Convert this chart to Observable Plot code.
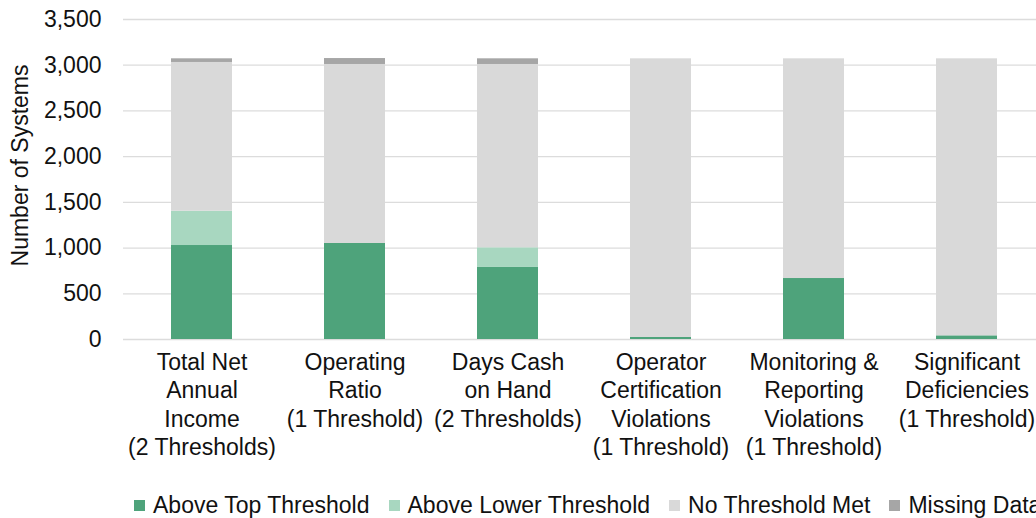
<!DOCTYPE html>
<html>
<head>
<meta charset="utf-8">
<script src="https://cdn.jsdelivr.net/npm/d3@7"></script>
<script src="https://cdn.jsdelivr.net/npm/@observablehq/plot@0.6"></script>
<style>
  html, body { margin: 0; padding: 0; background: white; overflow: hidden; }
  #wrap { position: relative; width: 1036px; height: 518px; font-family: "Liberation Sans", Arial, sans-serif; }
  #legend { position: absolute; left: 134px; top: 492px; display: flex; align-items: center; white-space: nowrap; font-size: 23px; color: #111; }
  .item { display: flex; align-items: center; margin-right: 19px; }
  .sw { width: 11px; height: 11px; margin-right: 8px; }
</style>
</head>
<body>
<div id="wrap"></div>
<script>
const categories = [
  "Total Net\nAnnual\nIncome\n(2 Thresholds)",
  "Operating\nRatio\n(1 Threshold)",
  "Days Cash\non Hand\n(2 Thresholds)",
  "Operator\nCertification\nViolations\n(1 Threshold)",
  "Monitoring &\nReporting\nViolations\n(1 Threshold)",
  "Significant\nDeficiencies\n(1 Threshold)"
];
const series = ["Above Top Threshold", "Above Lower Threshold", "No Threshold Met", "Missing Data"];
const colors = ["#4ea37b", "#a8d7c0", "#d9d9d9", "#a6a6a6"];
const aboveTop   = [1028, 1050, 788, 22, 667, 40];
const aboveLower = [375, 0, 215, 0, 0, 0];
const noThreshold = [1627, 1958, 2005, 3048, 2403, 3030];
const missing    = [40, 65, 62, 0, 0, 0];
const yTicks = [0, 500, 1000, 1500, 2000, 2500, 3000, 3500];

const seriesValues = [aboveTop, aboveLower, noThreshold, missing];
const data = [];
series.forEach((s, i) => categories.forEach((c, j) => data.push({category: c, series: s, value: seriesValues[i][j]})));

const chart = Plot.plot({
  width: 1036,
  height: 478,
  marginTop: 19,
  marginBottom: 139,
  marginLeft: 123,
  marginRight: -9,
  style: {fontFamily: "Liberation Sans, Arial, sans-serif", fontSize: "23px", color: "#111", background: "white", overflow: "visible"},
  x: {domain: categories, paddingInner: 0.6, paddingOuter: 0.3, label: null},
  y: {domain: [0, 3500], label: null},
  color: {domain: series, range: colors},
  marks: [
    Plot.gridY(yTicks, {stroke: "#dcdcdc", strokeOpacity: 1, strokeWidth: 1.3}),
    Plot.barY(data, {x: "category", y: "value", fill: "series", order: series}),
    Plot.axisY(yTicks, {tickSize: 0, tickPadding: 22, tickFormat: d3.format(","), fontSize: 23, label: null}),
    Plot.axisX({tickSize: 0, tickPadding: 10, lineHeight: 1.24, fontSize: 23, label: null}),
    Plot.text(["Number of Systems"], {frameAnchor: "left", textAnchor: "middle", rotate: -90, dx: -103, dy: -14, fontSize: 23, fill: "#111"})
  ]
});
document.getElementById("wrap").appendChild(chart);

const legend = document.createElement("div");
legend.id = "legend";
series.forEach((s, i) => {
  const item = document.createElement("div");
  item.className = "item";
  const sw = document.createElement("div");
  sw.className = "sw";
  sw.style.background = colors[i];
  const t = document.createElement("span");
  t.textContent = s;
  item.appendChild(sw);
  item.appendChild(t);
  legend.appendChild(item);
});
document.getElementById("wrap").appendChild(legend);
</script>
</body>
</html>
